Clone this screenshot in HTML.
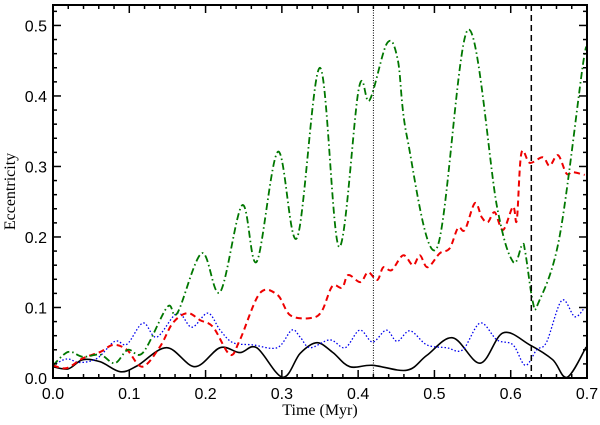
<!DOCTYPE html>
<html><head><meta charset="utf-8"><style>
body{margin:0;background:#fff;width:600px;height:425px;overflow:hidden}
svg{display:block}
.tk{font-family:"Liberation Sans",sans-serif;font-size:16px;fill:#000}
.ti{font-family:"Liberation Serif",serif;font-size:16px;fill:#000}
</style></head><body>
<svg id="chart" width="600" height="425" viewBox="0 0 600 425" xmlns="http://www.w3.org/2000/svg"></svg>
<script>
const xTicks=[0,0.1,0.2,0.3,0.4,0.5,0.6,0.7];
const xTickLabels=["0.0","0.1","0.2","0.3","0.4","0.5","0.6","0.7"];
const yTicks=[0,0.1,0.2,0.3,0.4,0.5];
const yTickLabels=["0.0","0.1","0.2","0.3","0.4","0.5"];
const vLineDotted=0.42;
const vLineDashed=0.627;

const blackT=[0,.020,.039,.062,.088,.110,.149,.186,.219,.245,.267,.301,.324,.346,.367,.389,.419,.464,.490,.524,.560,.590,.625,.655,.674,.699];
const blackE=[.016,.013,.026,.023,.009,.017,.043,.016,.043,.036,.043,.001,.035,.05,.036,.016,.018,.011,.032,.057,.021,.064,.047,.026,.001,.044];
const blueT=[0,.018,.035,.058,.081,.097,.118,.136,.163,.182,.203,.219,.236,.262,.294,.313,.324,.337,.363,.383,.402,.419,.437,.451,.468,.490,.516,.537,.560,.582,.603,.619,.634,.647,.667,.684,.697];
const blueE=[.018,.027,.022,.028,.052,.048,.078,.058,.092,.072,.092,.068,.05,.047,.043,.068,.058,.043,.054,.043,.068,.051,.068,.052,.067,.047,.043,.040,.078,.054,.047,.018,.040,.051,.110,.087,.1];
const redT=[0,.018,.039,.062,.079,.097,.117,.140,.157,.176,.193,.210,.232,.245,.271,.294,.311,.337,.352,.366,.379,.387,.403,.413,.425,.433,.444,.459,.472,.481,.491,.507,.520,.531,.540,.553,.562,.570,.579,.590,.603,.608,.614,.625,.642,.651,.662,.673,.681,.697];
const redE=[.018,.014,.028,.037,.047,.040,.016,.044,.078,.092,.082,.072,.033,.054,.120,.118,.089,.085,.094,.13,.128,.146,.136,.15,.139,.157,.153,.174,.16,.174,.157,.177,.184,.213,.210,.248,.228,.221,.235,.210,.243,.224,.319,.305,.313,.301,.316,.29,.292,.288];
const greenT=[0,.020,.039,.062,.081,.098,.118,.150,.163,.195,.219,.248,.267,.295,.320,.350,.375,.401,.415,.438,.452,.464,.503,.544,.582,.603,.615,.619,.629,.636,.664,.695,.7];
const greenE=[.018,.037,.030,.033,.021,.040,.036,.101,.092,.177,.122,.245,.165,.321,.199,.440,.186,.411,.394,.475,.451,.342,.184,.494,.243,.165,.189,.179,.108,.106,.200,.447,.46];

const L=53,R=587,T=5,B=378,XMAX=0.7,YMAX=0.529;
const sx=t=>L+(R-L)*t/XMAX;
const sy=e=>B-(B-T)*e/YMAX;
const svg=document.getElementById('chart');
const NS="http://www.w3.org/2000/svg";
function mk(tag,attrs,parent){const el=document.createElementNS(NS,tag);for(const k in attrs)el.setAttribute(k,attrs[k]);(parent||svg).appendChild(el);return el;}

function smooth(ts,es){
  const p=ts.map((t,i)=>[sx(t),sy(es[i])]);
  let d="M"+p[0][0].toFixed(1)+","+p[0][1].toFixed(1);
  for(let i=0;i<p.length-1;i++){
    const p0=p[Math.max(0,i-1)],p1=p[i],p2=p[i+1],p3=p[Math.min(p.length-1,i+2)];
    const c1=[p1[0]+(p2[0]-p0[0])/6,p1[1]+(p2[1]-p0[1])/6];
    const c2=[p2[0]-(p3[0]-p1[0])/6,p2[1]-(p3[1]-p1[1])/6];
    d+=` C${c1[0].toFixed(1)},${c1[1].toFixed(1)} ${c2[0].toFixed(1)},${c2[1].toFixed(1)} ${p2[0].toFixed(1)},${p2[1].toFixed(1)}`;
  }
  return d;
}
const clip=mk('clipPath',{id:'pc'});mk('rect',{x:L,y:T,width:R-L,height:B-T},clip);
const series=[
  {n:'series-black',t:blackT,e:blackE,c:'#000',w:1.6,da:''},
  {n:'series-blue',t:blueT,e:blueE,c:'#0000ee',w:1.3,da:'1.5 2'},
  {n:'series-red',t:redT,e:redE,c:'#ee0000',w:2,da:'6 4'},
  {n:'series-green',t:greenT,e:greenE,c:'#007700',w:1.8,da:'7 3 1.5 3'}
];
series.forEach(s=>{
  const el=mk('path',{d:smooth(s.t,s.e),fill:'none',stroke:s.c,'stroke-width':s.w,'stroke-dasharray':s.da,'clip-path':'url(#pc)'});
  
  
});
const v1=mk('line',{x1:sx(vLineDotted),x2:sx(vLineDotted),y1:T,y2:B,stroke:'#000','stroke-width':1,'stroke-dasharray':'1 1.5'});


const v2=mk('line',{x1:sx(vLineDashed),x2:sx(vLineDashed),y1:T,y2:B,stroke:'#000','stroke-width':1.5,'stroke-dasharray':'6 4'});



const tg=mk('g',{stroke:'#000','stroke-width':1.5});


for(let i=0;i<=35;i++){const t=i*0.02;const x=sx(t);const len=(i%5===0)?8:4;
  mk('line',{x1:x,x2:x,y1:B,y2:B-len},tg);mk('line',{x1:x,x2:x,y1:T,y2:T+len},tg);}
for(let i=0;i<=26;i++){const e=i*0.02;const y=sy(e);const len=(i%5===0)?8:4;
  mk('line',{x1:L,x2:L+len,y1:y,y2:y},tg);mk('line',{x1:R,x2:R-len,y1:y,y2:y},tg);}
xTicks.forEach((t,i)=>{const el=mk('text',{x:sx(t),y:B+21,'text-anchor':'middle',class:'tk'});el.textContent=xTickLabels[i];
  });
yTicks.forEach((e,i)=>{const el=mk('text',{x:L-6,y:sy(e)+6,'text-anchor':'end',class:'tk'});el.textContent=yTickLabels[i];
  });
const fr=mk('rect',{x:L,y:T,width:R-L,height:B-T,fill:'none',stroke:'#000','stroke-width':2});


const xt=mk('text',{x:(L+R)/2,y:415,'text-anchor':'middle',class:'ti'});xt.textContent='Time (Myr)';

const yt=mk('text',{x:0,y:0,'text-anchor':'middle',class:'ti',transform:`translate(15,${(T+B)/2}) rotate(-90)`});yt.textContent='Eccentricity';

</script>
</body></html>
